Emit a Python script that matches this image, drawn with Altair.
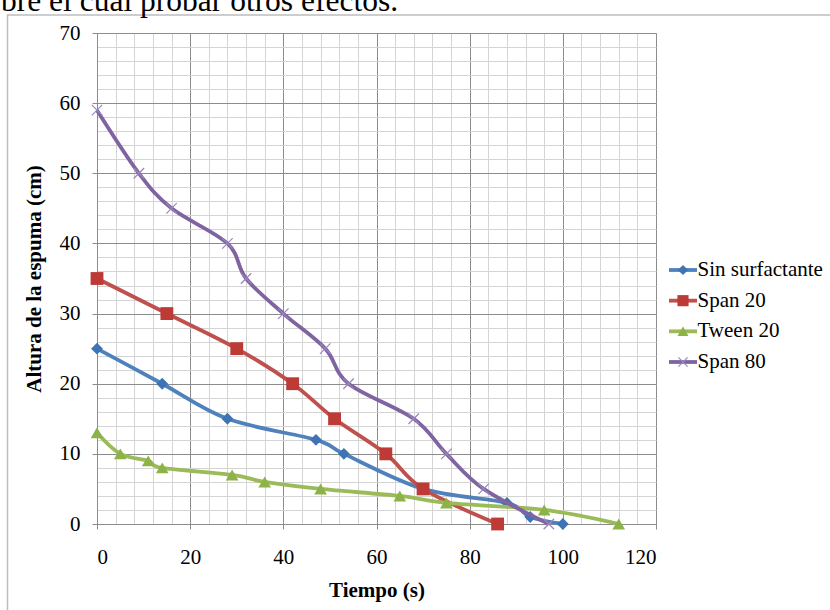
import altair as alt
import pandas as pd

# ---------------- data ----------------
series_names = ["Sin surfactante", "Span 20", "Tween 20", "Span 80"]

sin_t = [0, 14, 28, 47, 53, 70, 88, 93, 100]
sin_h = [25, 20, 15, 12, 10, 5, 3, 1, 0]

span20_t = [0, 15, 30, 42, 51, 62, 70, 86]
span20_h = [35, 30, 25, 20, 15, 10, 5, 0]

tween20_t = [0, 5, 11, 14, 29, 36, 48, 65, 75, 96, 112]
tween20_h = [13, 10, 9, 8, 7, 6, 5, 4, 3, 2, 0]

span80_t = [0, 9, 16, 28, 32, 40, 49, 54, 68, 75, 83, 97]
span80_h = [59, 50, 45, 40, 35, 30, 25, 20, 15, 10, 5, 0]

x_major = [0, 20, 40, 60, 80, 100, 120]
y_major = [0, 10, 20, 30, 40, 50, 60, 70]
x_minor = list(range(0, 121, 4))
y_minor = list(range(0, 71, 2))

x_title = "Tiempo (s)"
y_title = "Altura de la espuma (cm)"
top_text = ["bre el cual probar otros efectos."]

# ---------------- styles ----------------
FONT = "Times New Roman, Liberation Serif, serif"
colors = {"Sin surfactante": "#4F81BD", "Span 20": "#C0504D",
          "Tween 20": "#9BBB59", "Span 80": "#8064A2"}
marker_fill = {"Sin surfactante": "#3E73B5", "Span 20": "#BE3A36",
               "Tween 20": "#8DB247", "Span 80": "#8064A2"}
shapes = {"Sin surfactante": "diamond", "Span 20": "square",
          "Tween 20": "triangle-up", "Span 80": "M-1,-1L1,1M-1,1L1,-1"}
sizes = {"Sin surfactante": 140, "Span 20": 165, "Tween 20": 160, "Span 80": 110}

W, H = 559, 491
PAD_L, PAD_T = 97, 33
XS = alt.Scale(domain=[0, 120], nice=False, zero=False)
YS = alt.Scale(domain=[0, 70], nice=False, zero=False)

data = {
    "Sin surfactante": (sin_t, sin_h),
    "Span 20": (span20_t, span20_h),
    "Tween 20": (tween20_t, tween20_h),
    "Span 80": (span80_t, span80_h),
}
frames = []
for name in series_names:
    t, h = data[name]
    frames.append(pd.DataFrame({"t": t, "h": h, "series": name}))
df = pd.concat(frames, ignore_index=True)

# minor grid axis layer (invisible marks)
minor = alt.Chart(df).mark_point(opacity=0).encode(
    x=alt.X("t:Q", scale=XS, axis=alt.Axis(
        values=x_minor, grid=True, gridColor="#d4d4d4", gridWidth=1,
        labels=False, ticks=False, domain=False, title=None,
        orient="bottom", zindex=0)),
    y=alt.Y("h:Q", scale=YS, axis=alt.Axis(
        values=y_minor, grid=True, gridColor="#d4d4d4", gridWidth=1,
        labels=False, ticks=False, domain=False, title=None,
        orient="left", zindex=0)),
)

# major grid + labelled axes
major = alt.Chart(df).mark_point(opacity=0).encode(
    x=alt.X("t:Q", scale=XS, axis=alt.Axis(
        values=x_major, grid=True, gridColor="#8c8c8c", gridWidth=1,
        ticks=True, tickSize=5, tickColor="#8c8c8c",
        domain=True, domainColor="#8c8c8c",
        labelFont=FONT, labelFontSize=21, labelColor="#000000",
        labelPadding=17, labelBaseline="top",
        title=x_title, titleFont=FONT, titleFontSize=21, titleFontWeight="bold",
        titleColor="#000000", titleY=66, titleBaseline="middle",
        orient="bottom", zindex=0)),
    y=alt.Y("h:Q", scale=YS, axis=alt.Axis(
        values=y_major, grid=True, gridColor="#8c8c8c", gridWidth=1,
        ticks=True, tickSize=5, tickColor="#8c8c8c",
        domain=True, domainColor="#8c8c8c",
        labelFont=FONT, labelFontSize=21, labelColor="#000000",
        labelPadding=12,
        title=y_title, titleFont=FONT, titleFontSize=21, titleFontWeight="bold",
        titleColor="#000000", titleX=-63, titleBaseline="middle",
        titleAngle=270, orient="left", zindex=0)),
)

series_layers = []
for name in series_names:
    sub = alt.Chart(df).transform_filter(alt.datum.series == name)
    line = sub.mark_line(interpolate="cardinal", strokeWidth=3.8,
                         color=colors[name]).encode(
        x=alt.X("t:Q", scale=XS, axis=None),
        y=alt.Y("h:Q", scale=YS, axis=None),
        order="t:Q",
    )
    if name == "Span 80":
        pts = sub.mark_point(shape=shapes[name], size=sizes[name], filled=False,
                             stroke="#9A85BF", strokeWidth=1.2, opacity=1)
    else:
        pts = sub.mark_point(shape=shapes[name], size=sizes[name], filled=True,
                             color=marker_fill[name], opacity=1)
    pts = pts.encode(
        x=alt.X("t:Q", scale=XS, axis=None),
        y=alt.Y("h:Q", scale=YS, axis=None),
    )
    series_layers += [line, pts]

main = alt.layer(minor, major, *series_layers).resolve_axis(
    x="independent", y="independent")

# ---------------- legend ----------------
leg_df = pd.DataFrame({"series": series_names})
LY = alt.Scale(type="point", domain=series_names, range=[237, 329], padding=0)
leg_layers = []
for name in series_names:
    sub = alt.Chart(leg_df).transform_filter(alt.datum.series == name)
    rule = sub.mark_rule(strokeWidth=3.8, color=colors[name]).encode(
        x=alt.value(572), x2=alt.value(600),
        y=alt.Y("series:N", scale=LY, axis=None),
    )
    if name == "Span 80":
        pt = sub.mark_point(shape=shapes[name], size=85, filled=False,
                            stroke="#9A85BF", strokeWidth=1.2, opacity=1)
    else:
        pt = sub.mark_point(shape=shapes[name], size=sizes[name] * 0.75, filled=True,
                            color=marker_fill[name], opacity=1)
    pt = pt.encode(x=alt.value(586), y=alt.Y("series:N", scale=LY, axis=None))
    txt = sub.mark_text(align="left", baseline="middle", font=FONT, fontSize=21,
                        color="#000000").encode(
        x=alt.value(600.5), y=alt.Y("series:N", scale=LY, axis=None),
        text="series:N",
    )
    leg_layers += [rule, pt, txt]
legend = alt.layer(*leg_layers)

# ---------------- frame and cropped document text ----------------
frame_df = pd.DataFrame({"k": [1]})
frame = alt.Chart(frame_df).mark_rect(fillOpacity=0, stroke="#bdbdbd",
                                      strokeWidth=1.5).encode(
    x=alt.value(7.5 - PAD_L), x2=alt.value(900),
    y=alt.value(15 - PAD_T), y2=alt.value(700),
)
doc = alt.Chart(pd.DataFrame({"txt": top_text})).mark_text(
    align="left", baseline="alphabetic", font=FONT, fontSize=31.5,
    color="#000000").encode(
    x=alt.value(1 - PAD_L), y=alt.value(10.5 - PAD_T), text="txt:N")

chart = alt.layer(frame, doc, main, legend).resolve_scale(
    x="independent", y="independent"
).properties(
    width=W, height=H,
    autosize=alt.AutoSizeParams(type="none"),
    padding={"left": PAD_L, "top": PAD_T, "right": 830 - PAD_L - W,
             "bottom": 610 - PAD_T - H},
    background="#ffffff",
).configure(font=FONT).configure_view(stroke="#8c8c8c", strokeWidth=1)

chart.save("out.html", embed_options={"renderer": "svg", "actions": False})
